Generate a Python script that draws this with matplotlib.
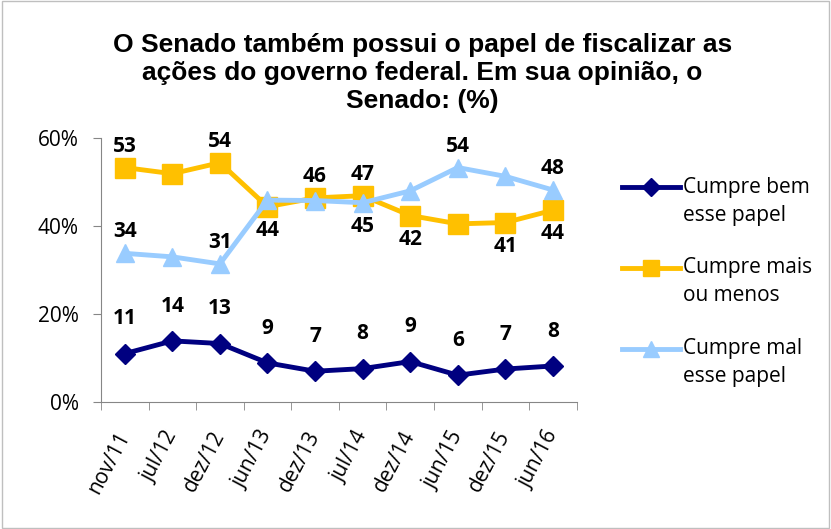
import numpy as np
import matplotlib.pyplot as plt
from matplotlib.patches import Rectangle
from matplotlib.lines import Line2D

periods = ["nov/11", "jul/12", "dez/12", "jun/13", "dez/13",
           "jul/14", "dez/14", "jun/15", "dez/15", "jun/16"]

bem = [11.0, 13.9, 13.3, 8.9, 7.0, 7.6, 9.2, 6.1, 7.5, 8.2]
mais_menos = [53.3, 51.9, 54.4, 44.4, 46.4, 46.9, 42.4, 40.5, 40.8, 43.6]
mal = [33.8, 33.0, 31.4, 45.9, 45.8, 45.3, 48.0, 53.3, 51.3, 48.2]

# labels shown on the chart (None = no label), "a" above, "b" below
bem_lbl = [11, 14, 13, 9, 7, 8, 9, 6, 7, 8]
mm_lbl = [(53, "a"), None, (54, "a"), (44, "b"), (46, "a"),
          (47, "a"), (42, "b"), None, (41, "b"), (44, "b")]
mal_lbl = [(34, "a"), None, (31, "a"), None, None,
           (45, "b"), None, (54, "a"), None, (48, "a")]

names = ["Cumpre bem\nesse papel", "Cumpre mais\nou menos", "Cumpre mal\nesse papel"]
c_bem = "#000080"
c_mm = "#FFC000"
c_mal = "#99CCFF"

body = "Open Sans"

fig = plt.figure(figsize=(8.31, 5.29), dpi=100)
ax = fig.add_axes([0.1215, 0.240, 0.5725, 0.499])
fig.patches.append(Rectangle((0.002, 0.002), 0.996, 0.996, transform=fig.transFigure,
                             fill=False, edgecolor="#bfbfbf", linewidth=1))

x = np.arange(len(periods))
styles = [(bem, c_bem, "D", 10.5), (mais_menos, c_mm, "s", 14), (mal, c_mal, "^", 13)]
for k, (vals, col, mk, ms) in enumerate(styles):
    ax.plot(x, vals, color=col, lw=3.5, marker=mk, ms=ms, zorder=3 + k)

lkw = dict(ha="center", va="center", fontsize=15, fontweight="bold", family=body, color="black")
for i, v in enumerate(bem_lbl):
    ax.annotate(str(v), (x[i], bem[i]), xytext=(0, 25), textcoords="offset points", **lkw)
for vals, lbls in ((mais_menos, mm_lbl), (mal, mal_lbl)):
    for i, item in enumerate(lbls):
        if item is None:
            continue
        v, pos = item
        dy = 15.5 if pos == "a" else -17
        ax.annotate(str(v), (x[i], vals[i]), xytext=(0, dy), textcoords="offset points", **lkw)

ax.set_xlim(-0.5, len(periods) - 0.5)
ax.set_ylim(0, 60)
ax.set_yticks([0, 20, 40, 60])
ax.set_yticklabels(["0%", "20%", "40%", "60%"], family=body, fontsize=15)
ax.set_xticks(x)
ax.set_xticklabels(periods, rotation=62, ha="right", va="center", rotation_mode="anchor",
                   family=body, fontsize=15)
ax.set_xticks(np.arange(-0.5, len(periods)), minor=True)
ax.tick_params(axis="x", which="major", length=0, pad=22)
ax.tick_params(axis="x", which="minor", length=6, color="#868686")
ax.tick_params(axis="y", length=6, color="#868686", pad=10)
for s in ("top", "right"):
    ax.spines[s].set_visible(False)
for s in ("left", "bottom"):
    ax.spines[s].set_color("#868686")

fig.text(0.508, 0.862, "O Senado também possui o papel de fiscalizar as\nações do governo federal. Em sua opinião, o\nSenado: (%)",
         ha="center", va="center", fontsize=19, fontweight="bold", family="Liberation Sans",
         linespacing=1.2)

# legend: handle aligned with the first line of each two-line label
leg_y = [0.6465, 0.4934, 0.3403]
step = 28 / 529
for (vals, col, mk, ms), name, y in zip(styles, names, leg_y):
    fig.add_artist(Line2D([0.7485, 0.818], [y, y], transform=fig.transFigure,
                          color=col, lw=3.5))
    fig.add_artist(Line2D([0.7833], [y], transform=fig.transFigure, color=col,
                          marker=mk, ms=ms * 0.85, lw=0))
    l1, l2 = name.split("\n")
    fig.text(0.822, y, l1, ha="left", va="center", fontsize=15, family=body)
    fig.text(0.822, y - step, l2, ha="left", va="center", fontsize=15, family=body)

fig.savefig("out.png", dpi=100)
